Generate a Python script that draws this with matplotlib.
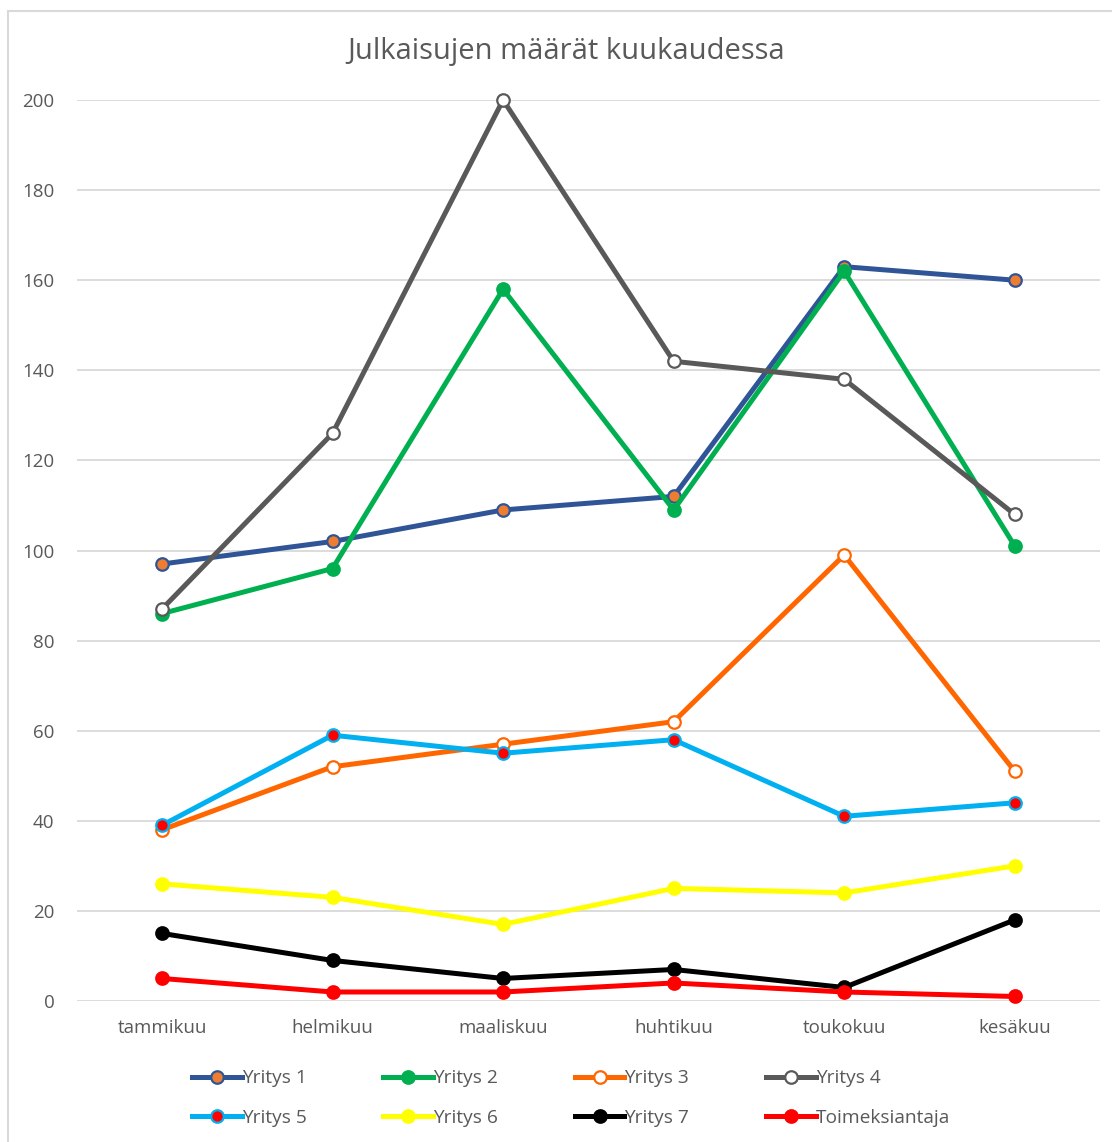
import matplotlib
matplotlib.use("Agg")
import matplotlib.pyplot as plt
from matplotlib.patches import Rectangle

plt.rcParams['font.family'] = ['Open Sans', 'DejaVu Sans']

months = ["tammikuu", "helmikuu", "maaliskuu", "huhtikuu", "toukokuu", "kesäkuu"]

yritys1 = [97, 102, 109, 112, 163, 160]
yritys2 = [86, 96, 158, 109, 162, 101]
yritys3 = [38, 52, 57, 62, 99, 51]
yritys4 = [87, 126, 200, 142, 138, 108]
yritys5 = [39, 59, 55, 58, 41, 44]
yritys6 = [26, 23, 17, 25, 24, 30]
yritys7 = [15, 9, 5, 7, 3, 18]
toimeksiantaja = [5, 2, 2, 4, 2, 1]

series_names = ["Yritys 1", "Yritys 2", "Yritys 3", "Yritys 4",
                "Yritys 5", "Yritys 6", "Yritys 7", "Toimeksiantaja"]
series_values = [yritys1, yritys2, yritys3, yritys4,
                 yritys5, yritys6, yritys7, toimeksiantaja]

# (line colour, marker face colour)
styles = [
    ("#2F5597", "#ED7D31"),
    ("#00B050", "#00B050"),
    ("#FF6600", "white"),
    ("#595959", "white"),
    ("#00B0F0", "#FF0000"),
    ("#FFFF00", "#FFFF00"),
    ("#000000", "#000000"),
    ("#FF0000", "#FF0000"),
]

W, H = 1112, 1142
fig = plt.figure(figsize=(W / 100, H / 100), dpi=100)

# outer chart frame
fig.patches.append(Rectangle((8 / W, -0.1), 1.2, 1 - 11 / H + 0.1,
                             transform=fig.transFigure, fill=False,
                             edgecolor="#D9D9D9", linewidth=1.5))

ax = fig.add_axes([76.7 / W, 1 - 1001 / H, (1100 - 76.7) / W, (1001 - 100) / H])
x = list(range(len(months)))

handles = []
for name, vals, (lc, fc) in zip(series_names, series_values, styles):
    h, = ax.plot(x, vals, color=lc, linewidth=3.6, marker="o", markersize=9,
                 markerfacecolor=fc, markeredgecolor=lc, markeredgewidth=1.6,
                 clip_on=False, zorder=3, label=name)
    handles.append(h)

ax.set_xlim(-0.5, len(months) - 0.5)
ax.set_ylim(0, 200)
ax.set_yticks(range(0, 201, 20))
ax.set_xticks(x)
ax.set_xticklabels(months)
ax.grid(axis="y", color="#D9D9D9", linewidth=1.3, zorder=0)
ax.set_axisbelow(True)
for s in ax.spines.values():
    s.set_visible(False)
ax.tick_params(axis="both", length=0, colors="#595959", labelsize=13.5)
ax.tick_params(axis="y", pad=16)
ax.tick_params(axis="x", pad=13)

fig.text(566 / W, 1 - 51 / H, "Julkaisujen määrät kuukaudessa",
         ha="center", va="center", fontsize=21, color="#595959")

# legend entries laid out row by row (matplotlib fills columns first)
ncol = 4
nrow = 2
order = [r * ncol + c for c in range(ncol) for r in range(nrow)]
fig.legend(handles=[handles[i] for i in order],
           labels=[series_names[i] for i in order], ncol=ncol,
           loc="center", bbox_to_anchor=(571 / W, 1 - 1098 / H),
           frameon=False, fontsize=13.8, labelcolor="#595959",
           handlelength=2.6, handletextpad=0.0, columnspacing=4.0,
           labelspacing=1.12)

fig.savefig("out.png", dpi=100)
